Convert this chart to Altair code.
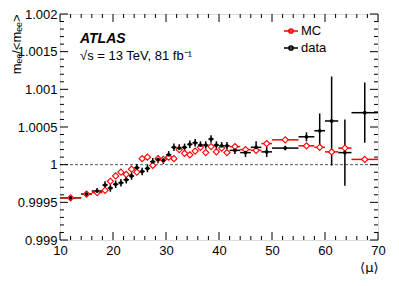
import altair as alt
import pandas as pd

# ---------------- data ----------------
bin_lo = [10, 14, 16, 18, 19, 20, 21, 22, 23, 24, 25, 26, 27, 28, 29, 30, 31, 32, 33,
          34, 35, 36, 37, 38, 39, 40, 41, 42, 44, 46, 48, 50, 55, 58, 60, 62.5, 65]
bin_hi = [14, 16, 18, 19, 20, 21, 22, 23, 24, 25, 26, 27, 28, 29, 30, 31, 32, 33, 34,
          35, 36, 37, 38, 39, 40, 41, 42, 44, 46, 48, 50, 55, 58, 60, 62.5, 65, 70]

data_vals = [0.99956, 0.99961, 0.99965, 0.99973, 0.99969, 0.99974, 0.99976, 0.99980,
             0.99985, 0.99996, 0.99991, 0.99995, 1.00004, 1.00007, 1.00006, 1.00013,
             1.00023, 1.00022, 1.00023, 1.00027, 1.00029, 1.00026, 1.00026, 1.00034,
             1.00026, 1.00025, 1.00025, 1.00019, 1.00016, 1.00023, 1.00017, 1.00022,
             1.00037, 1.00045, 1.00058, 1.00016, 1.00069]
data_errs = [0.00003, 0.00004, 0.00004, 0.00005, 0.00005, 0.00005, 0.00005, 0.00005,
             0.00005, 0.00005, 0.00005, 0.00005, 0.00005, 0.00005, 0.00005, 0.00005,
             0.00005, 0.00005, 0.00005, 0.00005, 0.00005, 0.00005, 0.00005, 0.00005,
             0.00005, 0.00005, 0.00005, 0.00005, 0.00006, 0.00008, 0.00007, 0.00003,
             0.00006, 0.00023, 0.00059, 0.00044, 0.00040]

mc_vals = [0.99956, 0.99961, 0.99963, 0.99966, 0.99978, 0.99985, 0.99990, 0.99987,
           0.99994, 0.99990, 1.00008, 1.00010, 0.99999, 1.00008, 1.00007, 1.00010,
           1.00008, 1.00020, 1.00015, 1.00013, 1.00018, 1.00023, 1.00016, 1.00024,
           1.00017, 1.00022, 1.00016, 1.00024, 1.00020, 1.00019, 1.00028, 1.00033,
           1.00025, 1.00023, 1.00017, 1.00022, 1.00007]
mc_errs = [0.00002] * 3 + [0.00003] * 24 + [0.00003] * 10

x_major = [10, 20, 30, 40, 50, 60, 70]
x_minor = [12, 14, 16, 18, 22, 24, 26, 28, 32, 34, 36, 38, 42, 44, 46, 48,
           52, 54, 56, 58, 62, 64, 66, 68]
y_major = [0.999, 0.9995, 1.0, 1.0005, 1.001, 1.0015, 1.002]
y_minor = [0.9991, 0.9992, 0.9993, 0.9994, 0.9996, 0.9997, 0.9998, 0.9999,
           1.0001, 1.0002, 1.0003, 1.0004, 1.0006, 1.0007, 1.0008, 1.0009,
           1.0011, 1.0012, 1.0013, 1.0014, 1.0016, 1.0017, 1.0018, 1.0019]

series_names = ["MC", "data"]
series_colors = ["#ff0000", "#000000"]

W, H = 318, 226
FONT = "Liberation Sans"


def make_df(vals, errs, name):
    rows = []
    for lo, hi, v, e in zip(bin_lo, bin_hi, vals, errs):
        rows.append(dict(lo=lo, hi=hi, x=(lo + hi) / 2, y=v, ylo=v - e, yhi=v + e,
                         series=name))
    return pd.DataFrame(rows)


df_data = make_df(data_vals, data_errs, "data")
df_mc = make_df(mc_vals, mc_errs, "MC")
df_all = pd.concat([df_data, df_mc], ignore_index=True)

xscale = alt.Scale(domain=[10, 70], nice=False, zero=False)
yscale = alt.Scale(domain=[0.999, 1.002], nice=False, zero=False)

x_axis = alt.Axis(
    values=x_major, ticks=False, domain=False, grid=False, labelFont=FONT,
    labelFontSize=13, labelColor="black", labelPadding=4, labelFlush=False,
    labelOverlap=False, title="⟨μ⟩", titleFont="DejaVu Sans", titleFontSize=13,
    titleFontWeight="normal", titleColor="black", titleX=W, titleY=21,
    titleAlign="right", titleBaseline="top", titleAnchor="end",
)
y_axis = alt.Axis(
    values=y_major, ticks=False, domain=False, grid=False, labelFont=FONT,
    labelFontSize=13, labelColor="black", labelPadding=3, labelFlush=False,
    labelOverlap=False, labelExpr="format(datum.value, '.6~g')",
    title="mₑₑ/<mₑₑ>", titleFont="Liberation Sans, DejaVu Sans", titleFontSize=13,
    titleFontWeight="normal", titleColor="black", titleX=-44, titleY=0,
    titleAngle=270, titleAlign="right", titleBaseline="middle",
)


def X(field):
    return alt.X(field, type="quantitative", scale=xscale, axis=x_axis)


def Y(field):
    return alt.Y(field, type="quantitative", scale=yscale, axis=y_axis)


color_scale = alt.Scale(domain=series_names, range=series_colors)
color = alt.Color(
    "series:N", scale=color_scale,
    legend=alt.Legend(
        title=None, orient="none", legendX=223, legendY=9,
        symbolType="M-1,0H1M-0.3,0a0.3,0.3 0 1,0 0.6,0a0.3,0.3 0 1,0 -0.6,0",
        symbolSize=196, symbolStrokeWidth=1.5, labelFont=FONT, labelFontSize=13,
        labelColor="black", rowPadding=2, labelOffset=2, padding=0,
    ),
)

base = alt.Chart(df_all)

hbars = base.mark_rule(strokeWidth=1.5).encode(
    x=X("lo"), x2="hi:Q", y=Y("y"), color=color)
vbars = base.mark_rule(strokeWidth=1.5).encode(
    x=X("x"), y=Y("ylo"), y2="yhi:Q",
    color=alt.Color("series:N", scale=color_scale, legend=None))

mc_pts = alt.Chart(df_mc).mark_point(shape="diamond", filled=True, fill="white",
                                     stroke="#ff0000", size=38, strokeWidth=1.1,
                                     opacity=1, fillOpacity=1).encode(
    x=X("x"), y=Y("y"))
data_pts = alt.Chart(df_data).mark_point(shape="circle", filled=True, color="#000000",
                                         size=14, opacity=1).encode(
    x=X("x"), y=Y("y"))

ref_line = alt.Chart(pd.DataFrame({"v": [1.0]})).mark_rule(
    color="#555555", strokeDash=[3, 2], strokeWidth=1).encode(y=Y("v"))

# inward ROOT-style ticks on all four sides
MAJ, MIN = 8, 4
tx_maj = pd.DataFrame({"v": x_major})
tx_min = pd.DataFrame({"v": x_minor})
ty_maj = pd.DataFrame({"v": y_major})
ty_min = pd.DataFrame({"v": y_minor})
tick_layers = []
for df_t, L in [(tx_maj, MAJ), (tx_min, MIN)]:
    tick_layers.append(alt.Chart(df_t).mark_rule(color="black", strokeWidth=1).encode(
        x=X("v"), y=alt.value(H), y2=alt.value(H - L)))
    tick_layers.append(alt.Chart(df_t).mark_rule(color="black", strokeWidth=1).encode(
        x=X("v"), y=alt.value(0), y2=alt.value(L)))
for df_t, L in [(ty_maj, MAJ), (ty_min, MIN)]:
    tick_layers.append(alt.Chart(df_t).mark_rule(color="black", strokeWidth=1).encode(
        y=Y("v"), x=alt.value(0), x2=alt.value(L)))
    tick_layers.append(alt.Chart(df_t).mark_rule(color="black", strokeWidth=1).encode(
        y=Y("v"), x=alt.value(W), x2=alt.value(W - L)))

atlas = alt.Chart(pd.DataFrame({"t": ["ATLAS"]})).mark_text(
    font=FONT, fontSize=14, fontWeight="bold", fontStyle="italic", align="left",
    baseline="alphabetic", color="black").encode(
    text="t:N", x=alt.value(20), y=alt.value(29))
energy = alt.Chart(pd.DataFrame({"t": ["√s = 13 TeV, 81 fb⁻¹"]})).mark_text(
    font=FONT, fontSize=13, align="left", baseline="alphabetic", color="black").encode(
    text="t:N", x=alt.value(20), y=alt.value(46))

chart = alt.layer(
    ref_line, *tick_layers, hbars, vbars, mc_pts, data_pts, atlas, energy
).properties(
    width=W, height=H,
    autosize=alt.AutoSizeParams(type="none"),
    padding={"left": 52, "top": 6, "right": 13, "bottom": 34},
).configure_view(stroke="black", strokeWidth=1).configure(background="white")

chart.save("out.html", embed_options={"renderer": "svg", "actions": False})
